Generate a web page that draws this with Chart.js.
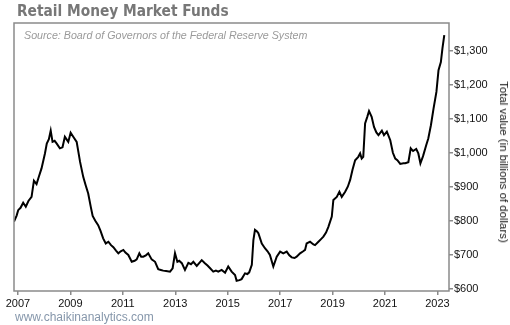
<!DOCTYPE html>
<html>
<head>
<meta charset="utf-8">
<script src="https://cdn.jsdelivr.net/npm/chart.js@4.4.0/dist/chart.umd.min.js"></script>
<style>
  html, body { margin: 0; padding: 0; background: #fff; }
  #wrap { position: relative; width: 510px; height: 325px; overflow: hidden; }
  #wrap canvas { position: absolute; left: 0; top: 0; }
  .txt { position: absolute; white-space: nowrap; }
  #title { left: 17px; top: 1px; font: bold 16px "DejaVu Sans", Verdana, sans-serif; color: #777;
           transform: scaleX(0.86); transform-origin: left top; }
  #source { left: 24px; top: 29px; font: italic 10.7px "Liberation Sans", Arial, sans-serif; color: #9a9a9a; }
  #footer { left: 15px; top: 310px; font: 12px "Liberation Sans", Arial, sans-serif; color: #8697ab; }
  #ytitle { left: 503.5px; top: 161.5px; font: 11.4px "Liberation Sans", Arial, sans-serif; color: #111;
            transform: translate(-50%, -50%) rotate(90deg); }
</style>
</head>
<body>
<div id="wrap">
  <canvas id="fundsChart" width="510" height="325"></canvas>
  <div class="txt" id="title">Retail Money Market Funds</div>
  <div class="txt" id="source">Source: Board of Governors of the Federal Reserve System</div>
  <div class="txt" id="ytitle">Total value (in billions of dollars)</div>
  <div class="txt" id="footer">www.chaikinanalytics.com</div>
</div>
<script>
// weekly-ish readings (year as decimal, value in $ billions)
const years = [
  2006.85, 2006.95, 2007.01, 2007.10, 2007.20, 2007.30, 2007.40, 2007.52, 2007.61, 2007.71,
  2007.80, 2007.90, 2008.03, 2008.10, 2008.18, 2008.25, 2008.32, 2008.40, 2008.48, 2008.60,
  2008.70, 2008.79, 2008.85, 2008.92, 2009.01, 2009.11, 2009.24, 2009.37, 2009.49, 2009.58,
  2009.68, 2009.78, 2009.85, 2009.95, 2010.06, 2010.15, 2010.25, 2010.35, 2010.45, 2010.55,
  2010.64, 2010.74, 2010.83, 2010.92, 2011.02, 2011.10, 2011.21, 2011.34, 2011.45, 2011.53,
  2011.63, 2011.70, 2011.78, 2011.88, 2011.97, 2012.10, 2012.23, 2012.35, 2012.45, 2012.54,
  2012.65, 2012.80, 2012.90, 2012.99, 2013.08, 2013.15, 2013.25, 2013.37, 2013.50, 2013.60,
  2013.69, 2013.82, 2014.01, 2014.13, 2014.23, 2014.33, 2014.45, 2014.55, 2014.64, 2014.77,
  2014.90, 2015.02, 2015.15, 2015.28, 2015.34, 2015.45, 2015.53, 2015.66, 2015.75, 2015.82,
  2015.92, 2015.98, 2016.04, 2016.12, 2016.17, 2016.30, 2016.42, 2016.52, 2016.61, 2016.74,
  2016.87, 2017.00, 2017.12, 2017.25, 2017.35, 2017.44, 2017.55, 2017.63, 2017.76, 2017.88,
  2017.95, 2018.01, 2018.14, 2018.27, 2018.33, 2018.46, 2018.55, 2018.65, 2018.75, 2018.84,
  2018.97, 2019.03, 2019.16, 2019.26, 2019.35, 2019.48, 2019.58, 2019.67, 2019.76, 2019.86,
  2019.98, 2020.05, 2020.11, 2020.17, 2020.24, 2020.32, 2020.39, 2020.49, 2020.58, 2020.67,
  2020.75, 2020.88, 2020.96, 2021.07, 2021.20, 2021.30, 2021.39, 2021.47, 2021.58, 2021.70,
  2021.77, 2021.89, 2021.98, 2022.07, 2022.19, 2022.27, 2022.35, 2022.45, 2022.57, 2022.65,
  2022.75, 2022.85, 2022.96, 2023.04, 2023.13, 2023.19, 2023.26
];
const values = [
  797, 815, 831, 838, 853, 841, 858, 870, 918, 908,
  930, 954, 998, 1027, 1040, 1065, 1032, 1035, 1027, 1013,
  1016, 1047, 1040, 1032, 1059, 1047, 1032, 973, 929, 905,
  880, 840, 814, 800, 787, 770, 748, 733, 738, 728,
  722, 712, 704, 710, 714, 706, 699, 679, 682, 686,
  704, 694, 694, 698, 704, 686, 679, 657, 655, 653,
  652, 650, 660, 704, 679, 682, 675, 655, 676, 672,
  679, 667, 684, 675, 668, 660, 650, 653, 650, 655,
  647, 665, 650, 640, 623, 625, 628, 645, 643, 648,
  670, 743, 773, 768, 763, 733, 719, 710, 699, 665,
  694, 709, 704, 709, 698, 692, 690, 694, 704, 710,
  714, 733, 738, 730, 728, 738, 745, 753, 765, 782,
  812, 861, 870, 885, 870, 885, 900, 920, 950, 978,
  988, 998, 983, 988, 1086, 1105, 1123, 1106, 1076, 1060,
  1052, 1065, 1052, 1062, 1037, 1000, 983, 978, 967, 969,
  969, 972, 1013, 1005, 1011, 998, 969, 990, 1022, 1042,
  1081, 1130, 1179, 1243, 1267, 1307, 1346
];

const xTicks = [2007, 2009, 2011, 2013, 2015, 2017, 2019, 2021, 2023];
const yTicks = [600, 700, 800, 900, 1000, 1100, 1200, 1300];

const AXIS_FONT = { family: "'Liberation Sans', Arial, sans-serif", size: 11 };

const frameBox = {
  id: "frameBox",
  afterDraw(chart) {
    const { ctx, chartArea: a } = chart;
    ctx.save();
    ctx.strokeStyle = "#8a8a8a";
    ctx.lineWidth = 1.5;
    ctx.strokeRect(a.left, a.top, a.right - a.left, a.bottom - a.top);
    ctx.restore();
  }
};

document.addEventListener("DOMContentLoaded", () => {
  const ctx = document.getElementById("fundsChart").getContext("2d");

  new Chart(ctx, {
    type: "line",
    data: {
      datasets: [{
        data: years.map((y, i) => ({ x: y, y: values[i] })),
        borderColor: "#000",
        borderWidth: 2,
        pointRadius: 0,
        tension: 0,
        fill: false
      }]
    },
    options: {
      responsive: false,
      animation: false,
      devicePixelRatio: 1,
      layout: { padding: { left: 14, top: 23, right: 0, bottom: 14 } },
      plugins: { legend: { display: false }, tooltip: { enabled: false } },
      scales: {
        x: {
          type: "linear",
          min: 2006.85,
          max: 2023.44,
          afterBuildTicks: (s) => { s.ticks = xTicks.map(v => ({ value: v })); },
          afterFit: (s) => { s.height = 20; s.paddingLeft = 0; s.paddingRight = 0; },
          border: { display: false },
          grid: { drawOnChartArea: false, drawTicks: true, tickLength: 4, color: "#8a8a8a", lineWidth: 1.5 },
          ticks: { color: "#111", font: AXIS_FONT, padding: 2, maxRotation: 0, autoSkip: false,
                   callback: (v) => String(v) }
        },
        y: {
          position: "right",
          min: 593,
          max: 1382,
          afterBuildTicks: (s) => { s.ticks = yTicks.map(v => ({ value: v })); },
          afterFit: (s) => { s.width = 61; s.paddingTop = 0; s.paddingBottom = 0; },
          border: { display: false },
          grid: { drawOnChartArea: false, drawTicks: true, tickLength: 4, color: "#8a8a8a", lineWidth: 1.5 },
          ticks: { color: "#111", font: AXIS_FONT, padding: 1, autoSkip: false,
                   callback: (v) => "$" + v.toLocaleString("en-US") }
        }
      }
    },
    plugins: [frameBox]
  });
});
</script>
</body>
</html>
